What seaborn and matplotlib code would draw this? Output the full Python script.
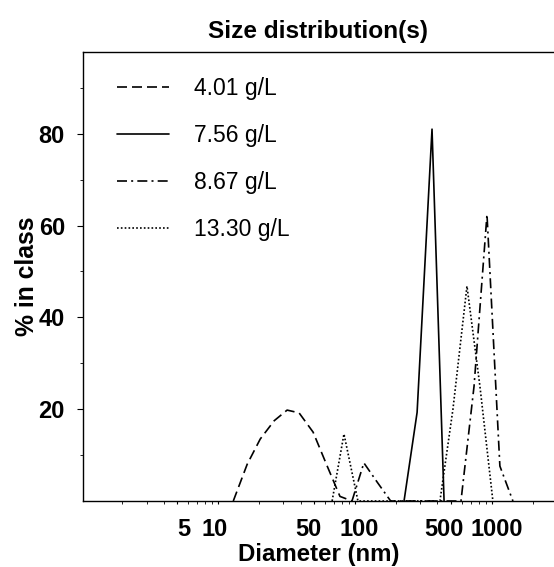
import matplotlib
matplotlib.use("Agg")
import matplotlib.pyplot as plt
import matplotlib.ticker as mticker
import matplotlib.transforms as mtrans
import numpy as np
import pandas as pd
import seaborn as sns

# ---- data ----
labels = ["4.01 g/L", "7.56 g/L", "8.67 g/L", "13.30 g/L"]

x_401 = [12.9, 16.3, 20.3, 25.7, 31.9, 39.0, 49.4, 61.4, 77.6, 95.0]
y_401 = [0.0, 8.0, 13.5, 17.5, 19.8, 19.2, 15.0, 8.2, 1.0, 0.0]

x_756 = [228, 284, 365, 447]
y_756 = [0.0, 19.3, 81.0, 0.0]

x_867 = [95.0, 116.0, 146.0, 182.0, 594.0, 740.0, 920.0, 1143.0, 1423.0]
y_867 = [0.0, 8.3, 4.0, 0.0, 0.0, 25.0, 62.4, 7.6, 0.0]

x_1330 = [68.0, 83.0, 105.0, 417.0, 519.0, 657.0, 817.0, 1016.0]
y_1330 = [0.0, 14.6, 0.0, 0.0, 20.0, 46.8, 25.0, 0.0]

xticks = [5, 10, 50, 100, 500, 1000]
yticks = [20, 40, 60, 80]

frames = []
for lab, xs, ys in zip(labels, [x_401, x_756, x_867, x_1330], [y_401, y_756, y_867, y_1330]):
    frames.append(pd.DataFrame({"Diameter": xs, "Percent": ys, "Conc": lab}))
df = pd.concat(frames, ignore_index=True)

sns.set_style("ticks")
plt.rcParams["font.family"] = ["Liberation Sans", "DejaVu Sans"]
plt.rcParams["text.color"] = "black"
plt.rcParams["axes.labelcolor"] = "black"
plt.rcParams["xtick.color"] = "black"
plt.rcParams["ytick.color"] = "black"

fig = plt.figure(figsize=(5.54, 5.67), dpi=100)
ax = fig.add_axes([83 / 554, 66 / 567, 471 / 554, 449 / 567])

dash_map = {
    "4.01 g/L": (6, 3),
    "7.56 g/L": "",
    "8.67 g/L": (6, 2.5, 1.2, 2.5),
    "13.30 g/L": (1, 1.3),
}
sns.lineplot(data=df, x="Diameter", y="Percent", hue="Conc", style="Conc",
             hue_order=labels, style_order=labels,
             palette=["black"] * 4, dashes=dash_map, linewidth=1.2,
             errorbar=None, sort=True, ax=ax)

ax.set_xscale("log")
ax.set_xlim(1.03, 2840)
ax.set_ylim(0, 97.8)

ax.xaxis.set_major_locator(mticker.FixedLocator(xticks))
ax.xaxis.set_major_formatter(mticker.FixedFormatter([str(t) for t in xticks]))
ax.xaxis.set_minor_locator(mticker.LogLocator(base=10, subs=np.arange(1, 10)))
ax.xaxis.set_minor_formatter(mticker.NullFormatter())

ax.yaxis.set_major_locator(mticker.FixedLocator(yticks))
ax.yaxis.set_minor_locator(mticker.FixedLocator([10, 30, 50, 70, 90]))

ax.tick_params(axis="x", which="major", length=2.5, width=0.8, pad=10, labelsize=17)
ax.tick_params(axis="x", which="minor", length=2, width=0.6)
ax.tick_params(axis="y", which="major", length=4, width=0.8, pad=9, labelsize=17)
ax.tick_params(axis="y", which="minor", length=2, width=0.6)
for lab in ax.get_xticklabels() + ax.get_yticklabels():
    lab.set_fontweight("bold")

# nudge crowded x tick labels apart as in the reference
shifts = {"5": 7, "10": -4, "50": -5, "100": 4, "500": -7, "1000": 5}
fig.canvas.draw()
for lab in ax.get_xticklabels():
    dx = shifts.get(lab.get_text(), 0)
    lab.set_transform(lab.get_transform() + mtrans.ScaledTranslation(dx / 100, 0, fig.dpi_scale_trans))

ax.spines["right"].set_visible(False)
for s in ["left", "bottom", "top"]:
    ax.spines[s].set_linewidth(1.0)
    ax.spines[s].set_color("black")

ax.set_xlabel("Diameter (nm)", fontsize=17.3, fontweight="bold", labelpad=1)
ax.set_ylabel("% in class", fontsize=17.8, fontweight="bold", labelpad=0)
ax.set_title("Size distribution(s)", fontsize=17.6, fontweight="bold", pad=10)

handles, labs = ax.get_legend_handles_labels()
ax.legend(handles, labs, loc="upper left", bbox_to_anchor=(0.072, 0.944),
          frameon=False, borderpad=0, borderaxespad=0, fontsize=16.5,
          handlelength=2.26, handletextpad=1.1, labelspacing=1.04)

fig.savefig("out.png", dpi=100)
